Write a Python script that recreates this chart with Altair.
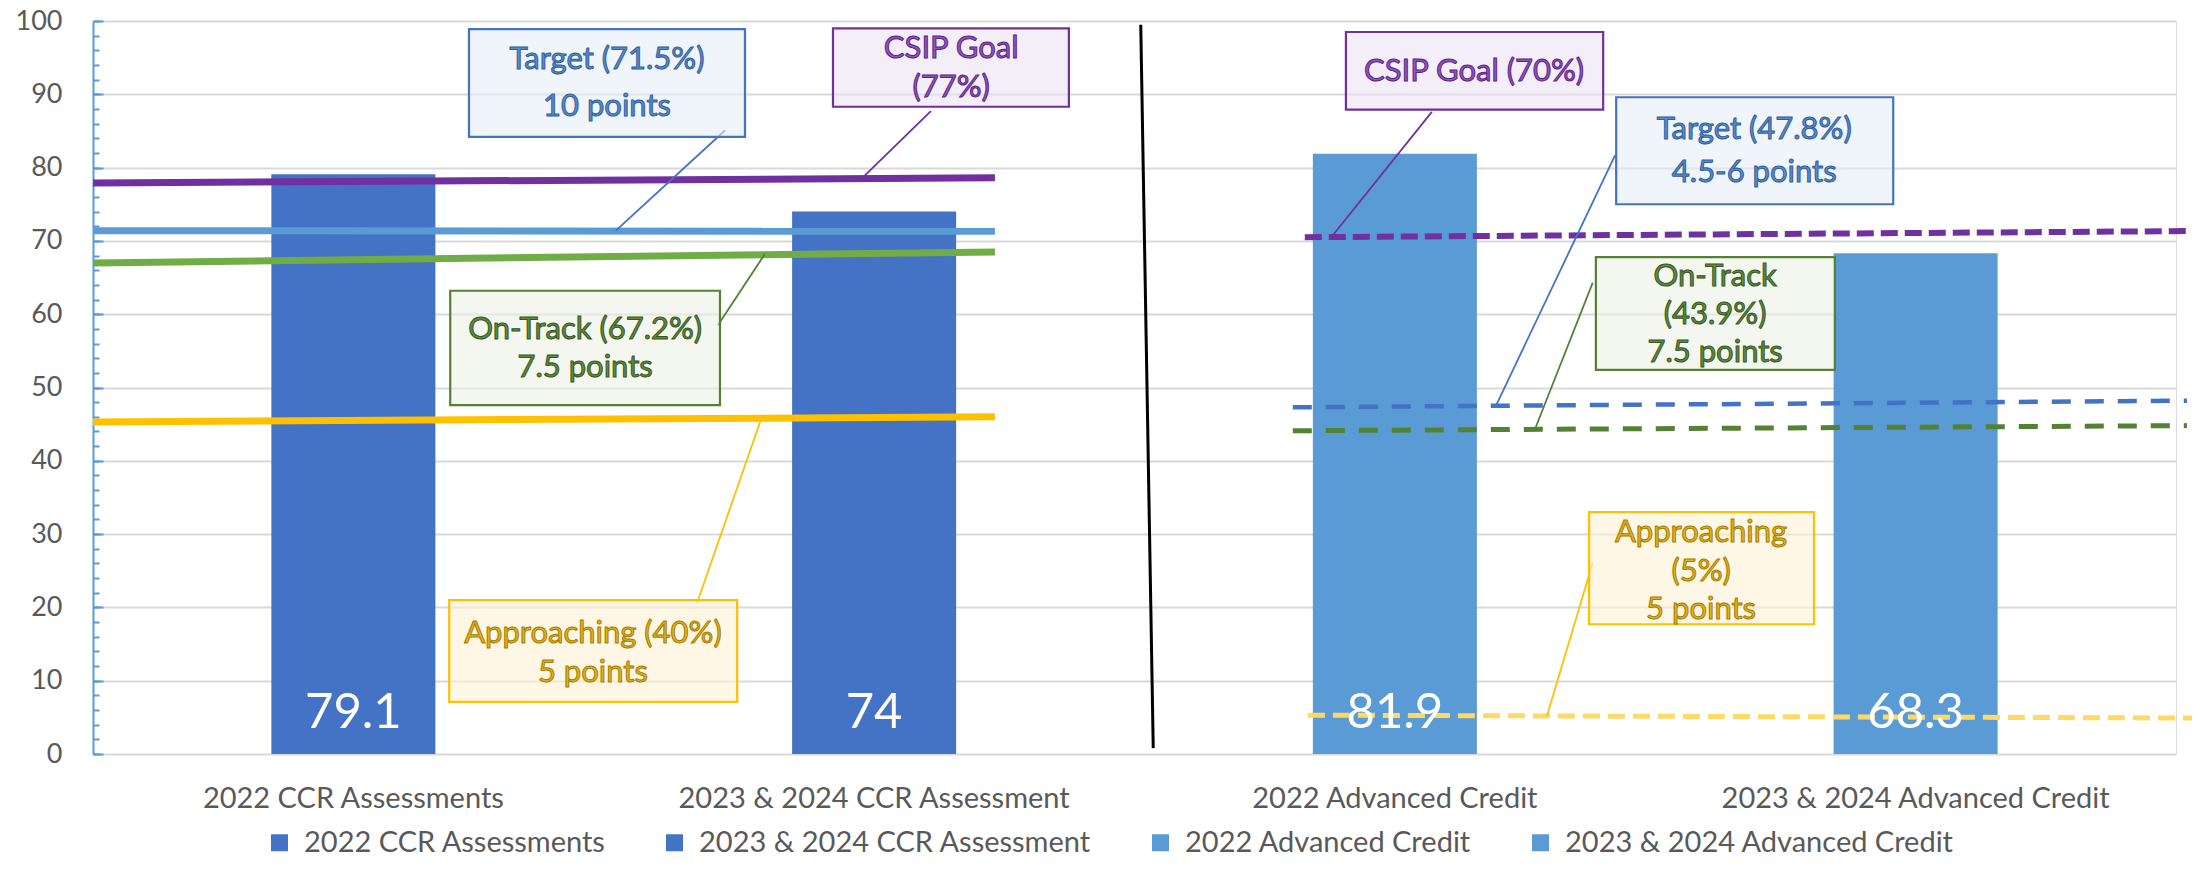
import altair as alt
import pandas as pd

# ---------------- data ----------------
categories = ["2022 CCR Assessments", "2023 & 2024 CCR Assessment",
              "2022 Advanced Credit", "2023 & 2024 Advanced Credit"]
bar_values = [79.1, 74, 81.9, 68.3]
bar_colors = ["#4472C4", "#4472C4", "#5B9BD5", "#5B9BD5"]
y_ticks = [0, 10, 20, 30, 40, 50, 60, 70, 80, 90, 100]

# benchmark lines (x measured in category units 0..4 across the plot)
line_names = ["csip_l", "target_l", "ontrack_l", "approach_l",
              "csip_r", "target_r", "ontrack_r", "approach_r"]
line_kind = ["csip", "target", "ontrack", "approach", "csip", "target", "ontrack", "approach"]
line_panel = ["left"] * 4 + ["right"] * 4
line_x_start = [0.0, 0.0, 0.0, 0.0, 2.327, 2.304, 2.304, 2.333]
line_x_end = [1.732, 1.732, 1.732, 1.732, 4.046, 4.021, 4.021, 4.046]
line_y_start = [77.9, 71.4, 67.0, 45.3, 70.5, 47.3, 44.1, 5.3]
line_y_end = [78.6, 71.3, 68.5, 46.0, 71.35, 48.2, 44.8, 4.9]

divider_x = [2.012, 2.036]
divider_y = [99.5, 0.8]

callout_kind = ["target", "csip", "ontrack", "approach", "csip", "target", "ontrack", "approach"]
callout_text = [
    ["Target (71.5%)", "10 points"],
    ["CSIP Goal", "(77%)"],
    ["On-Track (67.2%)", "7.5 points"],
    ["Approaching (40%)", "5 points"],
    ["CSIP Goal (70%)"],
    ["Target (47.8%)", "4.5-6 points"],
    ["On-Track", "(43.9%)", "7.5 points"],
    ["Approaching", "(5%)", "5 points"],
]

# ---------------- annotation layout (data units) ----------------
callout_layout = [
    dict(box=(0.722, 1.252, 84.2, 98.9), tx=0.987, ty=[94.7, 88.3], lead=(1.214, 85.1, 1.004, 71.4)),
    dict(box=(1.421, 1.874, 88.3, 99.0), tx=1.648, ty=[96.2, 90.9], lead=(1.609, 87.7, 1.473, 78.3)),
    dict(box=(0.686, 1.204, 47.6, 63.2), tx=0.945, ty=[57.8, 52.7], lead=(1.200, 58.5, 1.290, 68.2)),
    dict(box=(0.684, 1.237, 7.1, 21.0), tx=0.960, ty=[16.4, 11.1], lead=(1.160, 20.6, 1.283, 45.7)),
    dict(box=(2.406, 2.900, 87.9, 98.5), tx=2.652, ty=[93.0], lead=(2.571, 87.6, 2.379, 70.6)),
    dict(box=(2.925, 3.457, 75.0, 89.6), tx=3.190, ty=[85.1, 79.3], lead=(2.923, 81.7, 2.694, 47.5)),
    dict(box=(2.886, 3.345, 52.4, 67.8), tx=3.115, ty=[65.1, 59.9, 54.7], lead=(2.880, 64.3, 2.769, 44.3)),
    dict(box=(2.873, 3.305, 17.7, 33.0), tx=3.088, ty=[30.2, 24.8, 19.6], lead=(2.880, 26.1, 2.792, 5.2)),
]

KIND_STYLE = {
    "target": dict(border="#4472C4", fill="#E6EEF8", text="#5B8BC9", stroke="#2F5E9E", leader="#4472C4"),
    "csip": dict(border="#7030A0", fill="#EBE3F2", text="#8E55C0", stroke="#5B2385", leader="#7030A0"),
    "ontrack": dict(border="#548235", fill="#EBF1E5", text="#5E8C3C", stroke="#375623", leader="#548235"),
    "approach": dict(border="#FFC000", fill="#FFF2D6", text="#E2B31A", stroke="#A67C00", leader="#FFC000"),
}
LINE_STYLE = {
    ("left", "csip"): dict(color="#7030A0", strokeWidth=7),
    ("left", "target"): dict(color="#5B9BD5", strokeWidth=7),
    ("left", "ontrack"): dict(color="#70AD47", strokeWidth=7),
    ("left", "approach"): dict(color="#FFC000", strokeWidth=7),
    ("right", "csip"): dict(color="#7030A0", strokeWidth=6, strokeDash=[17, 7]),
    ("right", "target"): dict(color="#4472C4", strokeWidth=4.5, strokeDash=[19, 14]),
    ("right", "ontrack"): dict(color="#548235", strokeWidth=5, strokeDash=[19, 14]),
    ("right", "approach"): dict(color="#FFD966", strokeWidth=5, strokeDash=[17, 8]),
}

W, H = 2083, 733
FONT = "Lato"
GREY = "#595959"

# ---------------- tables ----------------
bar_df = pd.DataFrame({"category": categories, "value": bar_values})
lines_df = pd.DataFrame({"name": line_names, "kind": line_kind, "panel": line_panel,
                         "x0": line_x_start, "x1": line_x_end,
                         "y0": line_y_start, "y1": line_y_end})
divider_df = pd.DataFrame({"x0": [divider_x[0]], "x1": [divider_x[1]],
                           "y0": [divider_y[0]], "y1": [divider_y[1]]})
box_rows, text_rows, lead_rows = [], [], []
for kind, texts, lay in zip(callout_kind, callout_text, callout_layout):
    bx0, bx1, by0, by1 = lay["box"]
    box_rows.append(dict(kind=kind, x0=bx0, x1=bx1, y0=by0, y1=by1))
    for t, ty in zip(texts, lay["ty"]):
        text_rows.append(dict(kind=kind, x=lay["tx"], y=ty, text=t))
    lx0, ly0, lx1, ly1 = lay["lead"]
    lead_rows.append(dict(kind=kind, x0=lx0, y0=ly0, x1=lx1, y1=ly1))
box_df = pd.DataFrame(box_rows)
text_df = pd.DataFrame(text_rows)
lead_df = pd.DataFrame(lead_rows)

# ---------------- scales ----------------
band = alt.Scale(domain=categories, paddingInner=0.685, paddingOuter=0.3425)
yscale = alt.Scale(domain=[0, 100], nice=False, zero=True)
xq = alt.Scale(domain=[0, 4], nice=False, zero=False)

bars = alt.Chart(bar_df).mark_bar().encode(
    x=alt.X("category:N", scale=band, sort=categories,
            axis=alt.Axis(title=None, labelAngle=0, labelFontSize=29, labelColor=GREY,
                          labelFont=FONT, ticks=False, tickSize=0, domain=False,
                          labelPadding=30, labelLimit=0)),
    y=alt.Y("value:Q", scale=yscale,
            axis=alt.Axis(title=None, values=y_ticks, grid=True, gridColor="#D9D9D9",
                          gridWidth=2, ticks=False, tickSize=0, domainColor="#5B9BD5",
                          domainWidth=2, labelFontSize=27, labelColor=GREY, labelFont=FONT,
                          labelPadding=31)),
    color=alt.Color("category:N", scale=alt.Scale(domain=categories, range=bar_colors),
                    legend=alt.Legend(title=None, orient="none", direction="horizontal",
                                      legendX=172, legendY=807, symbolType="square",
                                      symbolSize=289, symbolStrokeWidth=0,
                                      labelFontSize=29, labelColor=GREY, labelFont=FONT,
                                      columnPadding=54, labelOffset=10, padding=0,
                                      labelLimit=0)),
)

tick_major = alt.Chart(bar_df).mark_point(opacity=0).encode(
    y=alt.Y("value:Q", scale=yscale,
            axis=alt.Axis(orient="right", offset=-W, values=y_ticks, tickSize=10,
                          tickWidth=2, tickColor="#5B9BD5", labels=False, domain=False,
                          grid=False, title=None)))
tick_minor = alt.Chart(bar_df).mark_point(opacity=0).encode(
    y=alt.Y("value:Q", scale=yscale,
            axis=alt.Axis(orient="right", offset=-W, tickCount=50, tickSize=6,
                          tickWidth=2, tickColor="#5B9BD5", labels=False, domain=False,
                          grid=False, title=None)))


def seg(df):
    return alt.Chart(df).encode(
        x=alt.X("x0:Q", scale=xq, axis=None), x2="x1:Q",
        y=alt.Y("y0:Q", scale=yscale, axis=None), y2="y1:Q")


overlay = []
for name, kind, panel in zip(line_names, line_kind, line_panel):
    st = LINE_STYLE[(panel, kind)]
    overlay.append(seg(lines_df).transform_filter(alt.datum.name == name)
                   .mark_rule(strokeCap="butt", **st))

overlay.append(seg(divider_df).mark_rule(color="#000000", strokeWidth=3))

for kind, st in KIND_STYLE.items():
    overlay.append(seg(lead_df).transform_filter(alt.datum.kind == kind)
                   .mark_rule(color=st["leader"], strokeWidth=1.8))
for kind, st in KIND_STYLE.items():
    overlay.append(seg(box_df).transform_filter(alt.datum.kind == kind)
                   .mark_rect(fill=st["fill"], fillOpacity=0.6, stroke=st["border"],
                              strokeWidth=2.2))
for kind, st in KIND_STYLE.items():
    overlay.append(alt.Chart(text_df).transform_filter(alt.datum.kind == kind)
                   .mark_text(font=FONT, fontSize=31, color=st["text"], stroke=st["stroke"],
                              strokeWidth=1.0, align="center", baseline="middle")
                   .encode(x=alt.X("x:Q", scale=xq, axis=None),
                           y=alt.Y("y:Q", scale=yscale, axis=None),
                           text="text:N"))

overlay_group = alt.layer(*overlay)

bar_labels = alt.Chart(bar_df).mark_text(
    font=FONT, fontSize=49, color="white", baseline="alphabetic", align="center", dy=-26
).transform_calculate(base="0").encode(
    x=alt.X("category:N", scale=band, sort=categories, axis=None),
    y=alt.Y("base:Q", scale=yscale, axis=None),
    text=alt.Text("value:Q", format="~g"),
)

chart = alt.layer(bars, tick_major, tick_minor, overlay_group, bar_labels).resolve_scale(
    x="independent").resolve_axis(y="independent").properties(
    width=W, height=H,
    padding={"left": 85, "top": 13, "right": 16, "bottom": 105},
    autosize=alt.AutoSizeParams(type="none"),
).configure_view(stroke=None).configure(font=FONT)

chart.save("out.html", embed_options={"renderer": "svg", "actions": False})
